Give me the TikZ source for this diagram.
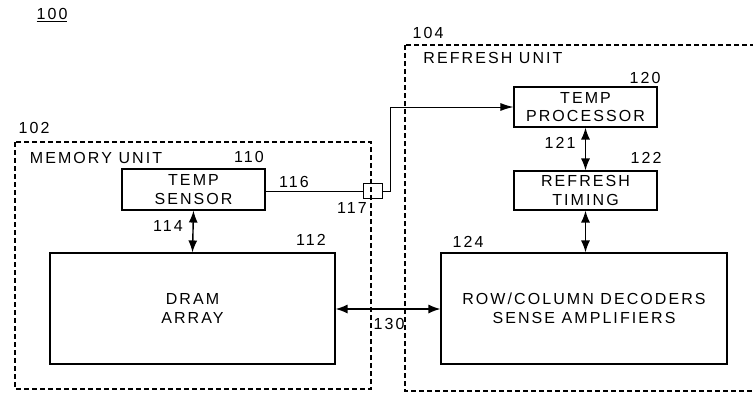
\documentclass[tikz,border=0pt]{standalone}
\usepackage{fontspec}
\newfontfamily\patfont{Liberation Sans}[LetterSpace=13]
\usetikzlibrary{arrows.meta}
\begin{document}
\begin{tikzpicture}[x=1pt,y=-1pt,
  every node/.style={font=\patfont\fontsize{16}{18.5}\selectfont, inner sep=0pt},
  blk/.style={draw, line width=1.1pt, align=center},
  unit/.style={draw, line width=1.3pt, dash pattern=on 5pt off 3pt},
  lbl/.style={anchor=center},
  wire/.style={line width=1pt},
  dbl/.style={line width=1.4pt, {Latex[length=12pt,width=9pt]}-{Latex[length=12pt,width=9pt]}},
  sgl/.style={line width=1pt, -{Latex[length=13pt,width=8pt]}}]
\useasboundingbox (0,0) rectangle (753,394);
\clip (0,0) rectangle (753,394);
% units
\draw[unit] (15,142) rectangle (371,389);
\draw[unit] (405,45) rectangle (770,391);
% labels
\node[lbl] (l100) at (52,15) {\underline{100}};
\node[lbl] (l102) at (34,128) {102};
\node[lbl] (mu) at (96,157.5) {MEMORY UNIT};
\node[lbl] (l104) at (428,33) {104};
\node[lbl] (ru) at (493,57.5) {REFRESH UNIT};
% blocks
\node[blk, minimum width=143, minimum height=41] (ts) at (193.5,189.5) {TEMP\\SENSOR};
\node[blk, minimum width=285, minimum height=111] (dram) at (192.5,308.5) {DRAM\\ARRAY};
\node[blk, minimum width=143, minimum height=40] (tp) at (585.5,107) {TEMP\\PROCESSOR};
\node[blk, minimum width=143, minimum height=39] (rt) at (585.5,190.5) {REFRESH\\TIMING};
\node[blk, minimum width=286, minimum height=111] (rc) at (584,308.5) {ROW/COLUMN DECODERS\\SENSE AMPLIFIERS};
\node[draw, line width=1pt, minimum width=19, minimum height=15] (conn) at (372.5,191) {};
% number labels
\node[lbl] (l110) at (249,157) {110};
\node[lbl] (l116) at (294,182) {116};
\node[lbl] (l117) at (352,208) {117};
\node[lbl] (l114) at (168,226) {114};
\node[lbl] (l112) at (311,240) {112};
\node[lbl] (l130) at (389,324) {130};
\node[lbl] (l120) at (645,78) {120};
\node[lbl] (l121) at (560,143) {121};
\node[lbl] (l122) at (646,158) {122};
\node[lbl] (l124) at (468,242) {124};
% connectors
\draw[wire] (ts.east |- conn.west) -- (conn.west);
\draw[sgl] (conn.east) -- ++(8,0) |- (tp.west);
\draw[dbl] (ts.south) -- (dram.north);
\draw[dbl] (tp.south) -- (rt.south |- rt.north);
\draw[dbl] (rt.south) -- (rt.south |- rc.north);
\draw[dbl] (dram.east |- 0,309) -- (rc.west |- 0,309);
\end{tikzpicture}
\end{document}
